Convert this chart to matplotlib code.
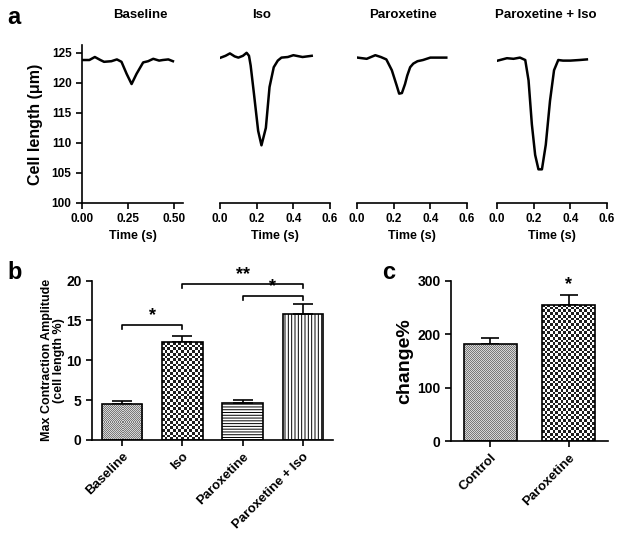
import numpy as np
import matplotlib
matplotlib.use('Agg')
import matplotlib.pyplot as plt
from matplotlib.colors import ListedColormap

plt.rcParams['font.family'] = ['Liberation Sans', 'DejaVu Sans']
plt.rcParams['font.weight'] = 'bold'
plt.rcParams['axes.labelweight'] = 'bold'
plt.rcParams['hatch.linewidth'] = 0.7

# --- panel a: single-cell traces (time s, cell length um)
trace_titles = ['Baseline', 'Iso', 'Paroxetine', 'Paroxetine + Iso']
baseline_t = [0.005, 0.04, 0.07, 0.1, 0.12, 0.16, 0.19, 0.215, 0.243, 0.27, 0.297, 0.333, 0.36, 0.388, 0.42, 0.44, 0.47, 0.495]
baseline_len = [123.8, 123.8, 124.3, 123.8, 123.5, 123.6, 123.9, 123.5, 121.5, 119.8, 121.5, 123.4, 123.6, 124.0, 123.7, 123.8, 123.9, 123.6]
iso_t = [0.004, 0.03, 0.054, 0.08, 0.1, 0.125, 0.145, 0.158, 0.167, 0.185, 0.208, 0.226, 0.25, 0.27, 0.293, 0.315, 0.335, 0.37, 0.4, 0.45, 0.5]
iso_len = [124.2, 124.5, 124.9, 124.4, 124.2, 124.5, 125.0, 124.5, 122.9, 118.2, 112.0, 109.6, 112.5, 119.3, 122.6, 123.7, 124.2, 124.3, 124.6, 124.3, 124.5]
parox_t = [0.003, 0.053, 0.1, 0.13, 0.16, 0.19, 0.216, 0.23, 0.245, 0.262, 0.274, 0.29, 0.307, 0.33, 0.36, 0.4, 0.45, 0.487]
parox_len = [124.2, 124.0, 124.6, 124.3, 123.9, 122.1, 119.6, 118.2, 118.3, 119.8, 121.2, 122.6, 123.2, 123.6, 123.8, 124.2, 124.2, 124.2]
pi_t = [0.004, 0.054, 0.09, 0.125, 0.154, 0.172, 0.19, 0.208, 0.226, 0.245, 0.266, 0.289, 0.311, 0.334, 0.36, 0.4, 0.45, 0.49]
pi_len = [123.7, 124.1, 124.0, 124.2, 123.8, 120.4, 113.1, 108.0, 105.6, 105.6, 109.7, 117.0, 122.1, 123.8, 123.7, 123.7, 123.8, 123.9]
trace_x_max = [0.55, 0.6, 0.6, 0.6]
trace_xticks = [[0.0, 0.25, 0.5], [0.0, 0.2, 0.4, 0.6], [0.0, 0.2, 0.4, 0.6], [0.0, 0.2, 0.4, 0.6]]

# --- panel b: max contraction amplitude
b_labels = ['Baseline', 'Iso', 'Paroxetine', 'Paroxetine + Iso']
b_means = [4.55, 12.3, 4.6, 15.8]
b_sem = [0.35, 0.7, 0.4, 1.3]
b_sig = [(0, 1, 14.4, '*'), (1, 3, 19.6, '**'), (2, 3, 18.1, '*')]

# --- panel c: change %
c_labels = ['Control', 'Paroxetine']
c_means = [181, 255]
c_sem = [13, 19]

fig = plt.figure(figsize=(6.24, 5.35), dpi=100)


def style_axes(ax, left=True):
    ax.spines['top'].set_visible(False)
    ax.spines['right'].set_visible(False)
    for s in ax.spines.values():
        s.set_linewidth(1.2)
    ax.tick_params(direction='out', length=4, width=1.2)
    if not left:
        ax.spines['left'].set_visible(False)
        ax.tick_params(axis='y', left=False, labelleft=False)


def checker(ax, bar, cell=2.0, colors=('#1e1e1e', 'white')):
    # checkerboard fill clipped to a bar, like the Prism pattern
    bb = bar.get_window_extent()
    nr = max(1, int(round(bb.height / cell)))
    nc = max(1, int(round(bb.width / cell)))
    arr = np.add.outer(np.arange(nr), np.arange(nc)) % 2
    x0, y0 = bar.get_x(), bar.get_y()
    im = ax.imshow(arr, cmap=ListedColormap(list(colors)), extent=(x0, x0 + bar.get_width(), y0, y0 + bar.get_height()),
                   aspect='auto', interpolation='nearest', zorder=2)
    im.set_clip_path(bar)


# panel a
lefts = [0.1314, 0.3526, 0.5721, 0.7965]
widths = [0.1619, 0.1763, 0.1763, 0.1763]
title_x = [0.574, 0.38, 0.42, 0.445]
traces = [(baseline_t, baseline_len), (iso_t, iso_len), (parox_t, parox_len), (pi_t, pi_len)]
for i in range(4):
    ax = fig.add_axes([lefts[i], 0.6206, widths[i], 0.2953])
    ax.plot(traces[i][0], traces[i][1], color='black', lw=1.8)
    ax.set_xlim(0, trace_x_max[i])
    ax.set_ylim(100, 126.3)
    ax.set_xticks(trace_xticks[i])
    if i == 0:
        ax.set_xticklabels(['%.2f' % v for v in trace_xticks[i]])
        ax.set_yticks([100, 105, 110, 115, 120, 125])
        ax.set_ylabel('Cell length (μm)', fontsize=11.5)
        ax.yaxis.set_label_coords(-0.39, 0.5)
    else:
        ax.set_xticklabels(['%.1f' % v for v in trace_xticks[i]])
    style_axes(ax, left=(i == 0))
    ax.tick_params(labelsize=8.5)
    ax.set_xlabel('Time (s)', fontsize=9, labelpad=3)
    ax.text(title_x[i], 1.19, trace_titles[i], transform=ax.transAxes, ha='center', va='center', fontsize=9.5, fontweight='bold')

# panel b
axb = fig.add_axes([0.1474, 0.1776, 0.3862, 0.2978])
xb = np.arange(len(b_labels))
axb.set_xlim(-0.5, 3.5)
axb.set_ylim(0, 20)
bars = axb.bar(xb, b_means, width=0.67, facecolor='none', edgecolor='black', linewidth=1.2, zorder=3)
bars[2].set_hatch('------')
bars[3].set_hatch('|||||')
axb.set_autoscale_on(False)
checker(axb, bars[0], cell=1.0, colors=('#7a7a7a', '#d6d6d6'))
checker(axb, bars[1], cell=2.7)
axb.errorbar(xb, b_means, yerr=[np.zeros(len(b_sem)), b_sem], fmt='none', ecolor='black', elinewidth=1.2, capsize=7, capthick=1.2, zorder=1)
for i, j, y, lab in b_sig:
    axb.plot([xb[i], xb[i], xb[j], xb[j]], [y - 0.5, y, y, y - 0.5], color='black', lw=1.2, clip_on=False)
    axb.text((xb[i] + xb[j]) / 2, y + 0.1, lab, ha='center', va='bottom', fontsize=13, fontweight='bold')
style_axes(axb)
axb.set_yticks([0, 5, 10, 15, 20])
axb.set_xticks(xb)
axb.set_xticklabels(b_labels, rotation=45, ha='right', rotation_mode='anchor')
axb.tick_params(axis='y', labelsize=10)
axb.tick_params(axis='x', labelsize=9.5)
axb.set_ylabel('Max Contraction Amplitude\n(cell length %)', fontsize=9, linespacing=1.1)
axb.yaxis.set_label_coords(-0.11, 0.5)

# panel c
axc = fig.add_axes([0.7228, 0.1757, 0.2516, 0.2991])
xc = np.arange(len(c_labels))
axc.set_xlim(-0.5, 1.5)
axc.set_ylim(0, 300)
cbars = axc.bar(xc, c_means, width=0.675, facecolor='none', edgecolor='black', linewidth=1.2, zorder=3)
axc.set_autoscale_on(False)
checker(axc, cbars[0], cell=1.0, colors=('#7a7a7a', '#d6d6d6'))
checker(axc, cbars[1], cell=2.7)
axc.errorbar(xc, c_means, yerr=[np.zeros(len(c_sem)), c_sem], fmt='none', ecolor='black', elinewidth=1.2, capsize=6.5, capthick=1.2, zorder=1)
axc.text(xc[1], c_means[1] + c_sem[1] + 3, '*', ha='center', va='bottom', fontsize=13, fontweight='bold')
style_axes(axc)
axc.set_yticks([0, 100, 200, 300])
axc.set_xticks(xc)
axc.set_xticklabels(c_labels, rotation=45, ha='right', rotation_mode='anchor')
axc.tick_params(axis='y', labelsize=10)
axc.tick_params(axis='x', labelsize=9.5)
axc.set_ylabel('change%', fontsize=14)
axc.yaxis.set_label_coords(-0.24, 0.5)

# panel letters
fig.text(0.012, 1 - 24 / 535, 'a', fontsize=17, fontweight='bold')
fig.text(0.012, 1 - 279 / 535, 'b', fontsize=17, fontweight='bold')
fig.text(0.613, 1 - 279 / 535, 'c', fontsize=17, fontweight='bold')

fig.savefig('out.png', dpi=100)
